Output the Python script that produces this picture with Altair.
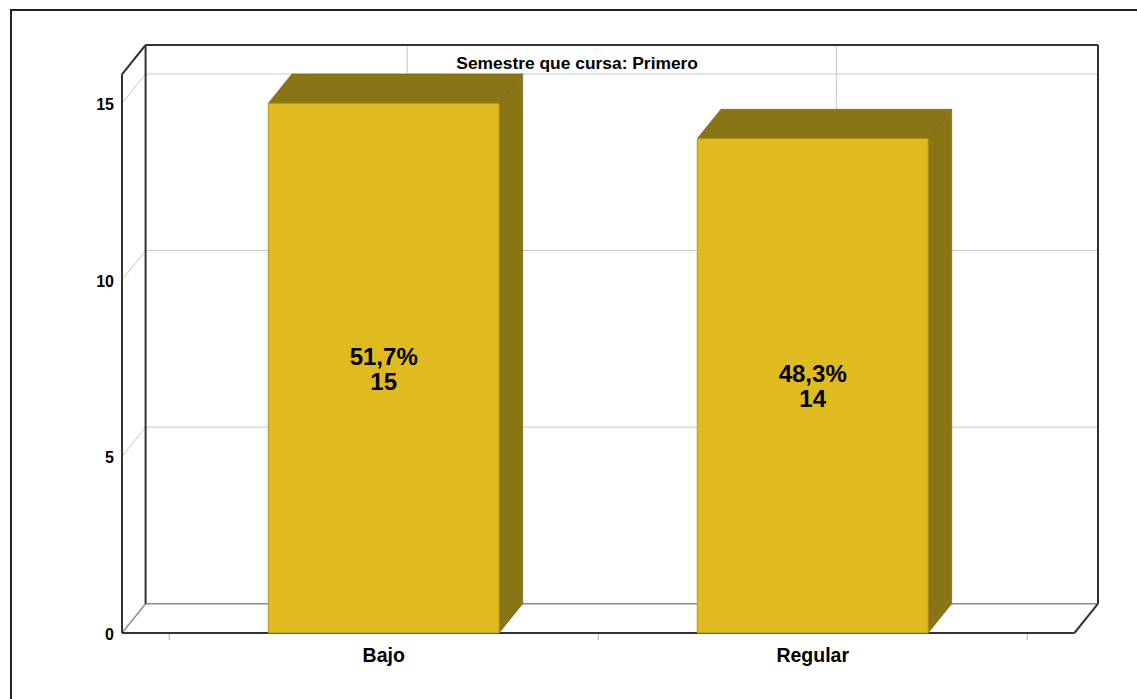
import altair as alt
import pandas as pd

# Counts per category
categories = ["Bajo", "Regular"]
counts = [15, 14]
title_text = "Semestre que cursa: Primero"
y_ticks = [0, 5, 10, 15]

total = sum(counts)
pct_labels = [f"{c / total * 100:.1f}%".replace(".", ",") for c in counts]

# Geometry of the 3D box, in data units (x: category slots, y: counts)
PAD = 0.11           # gap between outer category slots and the box walls
HW = 0.269           # half width of a bar
DX = 0.055           # depth offset along x
DY = 0.83            # depth offset along y
Y_FRONT_TOP = 15.82  # height of the front edge of the box

X_MIN = -0.5 - PAD
X_FRONT_MAX = len(categories) - 0.5 + PAD
X_MAX = X_FRONT_MAX + DX
Y_MAX = Y_FRONT_TOP + DY

FACE = "#E0BB1F"
SHADE = "#8A7516"
FONT = "Liberation Sans"

XS = alt.Scale(domain=[X_MIN, X_MAX], nice=False, zero=False)
YS = alt.Scale(domain=[0, Y_MAX], nice=False, zero=False)

# ---- box wireframe segments -------------------------------------------
grid, floor, dark = [], [], []
for v in y_ticks[1:]:
    grid.append((X_MIN + DX, v + DY, X_MAX, v + DY))
    grid.append((X_MIN, v, X_MIN + DX, v + DY))
for i in range(len(categories)):
    grid.append((i + DX, DY, i + DX, Y_MAX))
floor.append((X_MIN + DX, DY, X_MAX, DY))
floor.append((X_MIN, 0, X_MIN + DX, DY))
dark += [
    (X_MIN, 0, X_MIN, Y_FRONT_TOP),
    (X_MIN, Y_FRONT_TOP, X_MIN + DX, Y_MAX),
    (X_MIN + DX, Y_MAX, X_MAX, Y_MAX),
    (X_MAX, Y_MAX, X_MAX, DY),
    (X_MIN + DX, Y_MAX, X_MIN + DX, DY),
    (X_MIN, 0, X_FRONT_MAX, 0),
    (X_FRONT_MAX, 0, X_MAX, DY),
]
ticks = [(b - 0.5, 0, b - 0.5, -0.2) for b in range(len(categories) + 1)]


def segs(rows):
    return pd.DataFrame(rows, columns=["x", "y", "x2", "y2"])


def rule_layer(rows, color, width):
    return alt.Chart(segs(rows)).mark_rule(color=color, strokeWidth=width).encode(
        x=alt.X("x:Q", scale=XS, axis=None),
        x2="x2:Q",
        y=alt.Y("y:Q", scale=YS, axis=None),
        y2="y2:Q",
    )


# ---- bar tables ---------------------------------------------------------
bars = pd.DataFrame({
    "cat": categories,
    "count": counts,
    "pct": pct_labels,
    "xc": list(range(len(categories))),
})
bars["xl"] = bars["xc"] - HW
bars["xr"] = bars["xc"] + HW
bars["zero"] = 0.0
bars["mid"] = bars["count"] / 2

top_rows, side_rows = [], []
for i, (c, v) in enumerate(zip(categories, counts)):
    top_rows.append({"cat": c, "y": v, "xa": i - HW, "xb": i + HW})
    top_rows.append({"cat": c, "y": v + DY, "xa": i - HW + DX, "xb": i + HW + DX})
    side_rows.append({"cat": c, "x": i + HW, "ya": 0, "yb": v})
    side_rows.append({"cat": c, "x": i + HW + DX, "ya": DY, "yb": v + DY})
top_df = pd.DataFrame(top_rows)
side_df = pd.DataFrame(side_rows)

front = alt.Chart(bars).mark_rect(fill=FACE, stroke="#B29519", strokeWidth=1).encode(
    x=alt.X("xl:Q", scale=XS, axis=None),
    x2="xr:Q",
    y=alt.Y("zero:Q", scale=YS, axis=None),
    y2="count:Q",
)

top = alt.Chart(top_df).mark_area(
    orient="horizontal", fill=SHADE, stroke="#6E5E12", strokeWidth=0.6
).encode(
    y=alt.Y("y:Q", scale=YS, axis=None),
    x=alt.X("xa:Q", scale=XS, axis=None),
    x2="xb:Q",
    detail="cat:N",
)

side = alt.Chart(side_df).mark_area(
    orient="vertical", fill=SHADE, stroke="#6E5E12", strokeWidth=0.6
).encode(
    x=alt.X("x:Q", scale=XS, axis=None),
    y=alt.Y("ya:Q", scale=YS, axis=None),
    y2="yb:Q",
    detail="cat:N",
)

pct_text = alt.Chart(bars).mark_text(
    font=FONT, fontSize=24, fontWeight="bold", color="black",
    baseline="alphabetic", dy=-3.5,
).encode(
    x=alt.X("xc:Q", scale=XS, axis=None),
    y=alt.Y("mid:Q", scale=YS, axis=None),
    text="pct:N",
)

count_text = alt.Chart(bars).mark_text(
    font=FONT, fontSize=24, fontWeight="bold", color="black",
    baseline="alphabetic", dy=21.5,
).encode(
    x=alt.X("xc:Q", scale=XS, axis=None),
    y=alt.Y("mid:Q", scale=YS, axis=None),
    text="count:Q",
)

cat_text = alt.Chart(bars).mark_text(
    font=FONT, fontSize=19.5, fontWeight="bold", color="black",
    baseline="alphabetic", dy=29,
).encode(
    x=alt.X("xc:Q", scale=XS, axis=None),
    y=alt.Y("zero:Q", scale=YS, axis=None),
    text="cat:N",
)

ytick_df = pd.DataFrame({"v": y_ticks, "xpos": X_MIN})
ytick_text = alt.Chart(ytick_df).mark_text(
    font=FONT, fontSize=16, fontWeight="bold", color="black",
    align="right", baseline="middle", dx=-8, dy=2,
).encode(
    x=alt.X("xpos:Q", scale=XS, axis=None),
    y=alt.Y("v:Q", scale=YS, axis=None),
    text="v:Q",
)

title_df = pd.DataFrame({"t": [title_text], "x": [0.451], "y": [16.12]})
title = alt.Chart(title_df).mark_text(
    font=FONT, fontSize=17.4, fontWeight="bold", color="black",
    baseline="middle", align="center",
).encode(
    x=alt.X("x:Q", scale=XS, axis=None),
    y=alt.Y("y:Q", scale=YS, axis=None),
    text="t:N",
)

# Outer frame around the whole figure
frame = alt.Chart(pd.DataFrame({"k": [0]})).mark_rect(
    filled=False, stroke="#222222", strokeWidth=2
).encode(
    x=alt.value(-111), x2=alt.value(1030),
    y=alt.value(-35), y2=alt.value(700),
)

chart = alt.layer(
    frame,
    rule_layer(grid, "#C8C8C8", 1),
    rule_layer(floor, "#8C8C8C", 1.5),
    rule_layer(ticks, "#B0B0B0", 1),
    rule_layer(dark, "#333333", 2),
    side,
    top,
    front,
    pct_text,
    count_text,
    cat_text,
    ytick_text,
    title,
).properties(
    width=976,
    height=588,
    autosize=alt.AutoSizeParams(type="none"),
    padding={"left": 122, "top": 45, "right": 39, "bottom": 66},
    background="white",
).configure_view(stroke=None)

chart.save("out.html", embed_options={"renderer": "svg", "actions": False})
